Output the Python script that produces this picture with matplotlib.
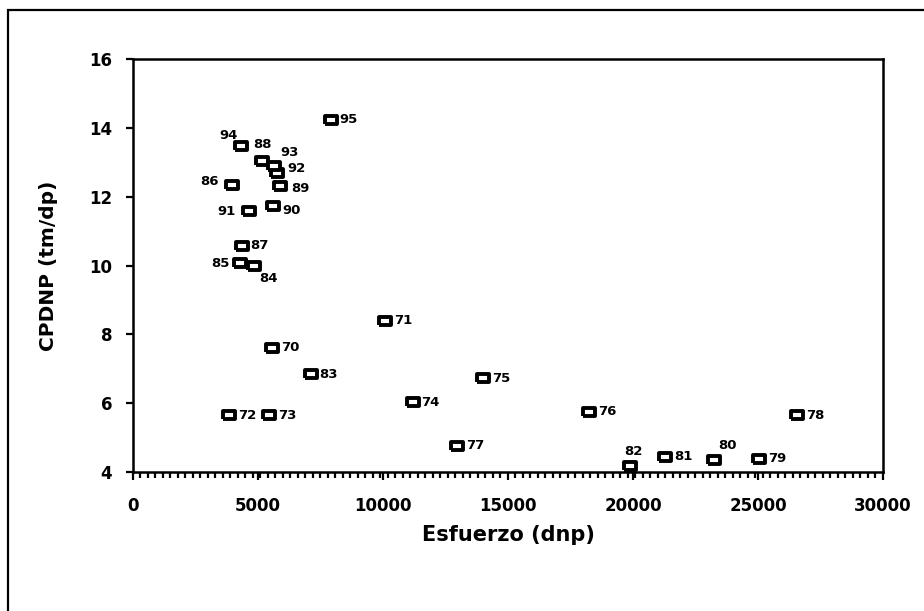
"""
CPDNP against fishing effort (Esfuerzo) by season, 1970-1995.
"""

import matplotlib.pyplot as plt
import numpy as np
from matplotlib.patches import Rectangle
from matplotlib.ticker import MultipleLocator

plt.rcParams["font.family"] = ["DejaVu Sans"]
plt.rcParams["font.weight"] = "bold"

# Season (two-digit year), effort in dnp and CPDNP in tm/dp
years = ["70", "71", "72", "73", "74", "75", "76", "77", "78", "79",
         "80", "81", "82", "83", "84", "85", "86", "87", "88", "89",
         "90", "91", "92", "93", "94", "95"]
esfuerzo = [5570, 10100, 3840, 5440, 11190, 14010, 18250, 12970, 26570, 25040,
            23250, 21280, 19880, 7120, 4840, 4280, 3960, 4350, 5150, 5880,
            5590, 4640, 5760, 5640, 4310, 7910]
cpdnp = [7.61, 8.39, 5.65, 5.65, 6.02, 6.72, 5.75, 4.76, 5.65, 4.38,
         4.35, 4.45, 4.18, 6.84, 10.00, 10.06, 12.35, 10.58, 13.05, 12.30,
         11.72, 11.57, 12.70, 12.90, 13.46, 14.23]

# Label placement in pixels from the marker; anything not listed sits to the right
default_offset = (18, 0)
label_offsets = {
    "94": (-12, 11),
    "88": (1, 16),
    "93": (16, 13),
    "92": (20, 4),
    "86": (-22, 3),
    "89": (20, -2),
    "91": (-22, 0),
    "90": (19, -4),
    "85": (-20, 0),
    "84": (15, -13),
    "82": (3, 14),
    "80": (13, 14),
}

fig = plt.figure(figsize=(9.24, 6.11), dpi=100)
ax = fig.add_axes([0.1439, 0.2275, 0.8117, 0.6759])

# outer frame of the figure
fig.patches.append(
    Rectangle((8 / 924, -0.05), 1.1, 1 - 10 / 611 + 0.05, transform=fig.transFigure,
              fill=False, edgecolor="black", linewidth=1.6)
)

# slightly wide open rectangle marker
box = np.array([[-1.0, -0.72], [1.0, -0.72], [1.0, 0.72], [-1.0, 0.72], [-1.0, -0.72]])
ax.plot(esfuerzo, cpdnp, linestyle="none", marker=box, markersize=8,
        markerfacecolor="white", markeredgecolor="black", markeredgewidth=2.8,
        clip_on=False, zorder=3)

for name, x, y in zip(years, esfuerzo, cpdnp):
    dx, dy = label_offsets.get(name, default_offset)
    ax.annotate(name, (x, y), xytext=(dx, dy), textcoords="offset pixels",
                ha="center", va="center", fontsize=9.5, fontweight="bold")

ax.set_xlim(0, 30000)
ax.set_ylim(4, 16)
ax.xaxis.set_major_locator(MultipleLocator(5000))
ax.xaxis.set_minor_locator(MultipleLocator(300))
ax.yaxis.set_major_locator(MultipleLocator(2))

for spine in ax.spines.values():
    spine.set_linewidth(1.8)

ax.tick_params(axis="y", which="major", direction="out", length=5, width=1.6,
               labelsize=12, pad=10)
ax.tick_params(axis="x", which="major", direction="out", length=6, width=1.6,
               labelsize=12, pad=12)
ax.tick_params(axis="x", which="minor", direction="out", length=4.5, width=1.6)
for label in ax.get_xticklabels() + ax.get_yticklabels():
    label.set_fontweight("bold")

ax.set_xlabel("Esfuerzo (dnp)", fontsize=15, fontweight="bold", labelpad=7)
ax.set_ylabel("CPDNP (tm/dp)", fontsize=14.5, fontweight="bold", labelpad=22)

fig.savefig("out.png", dpi=100, facecolor="white")
